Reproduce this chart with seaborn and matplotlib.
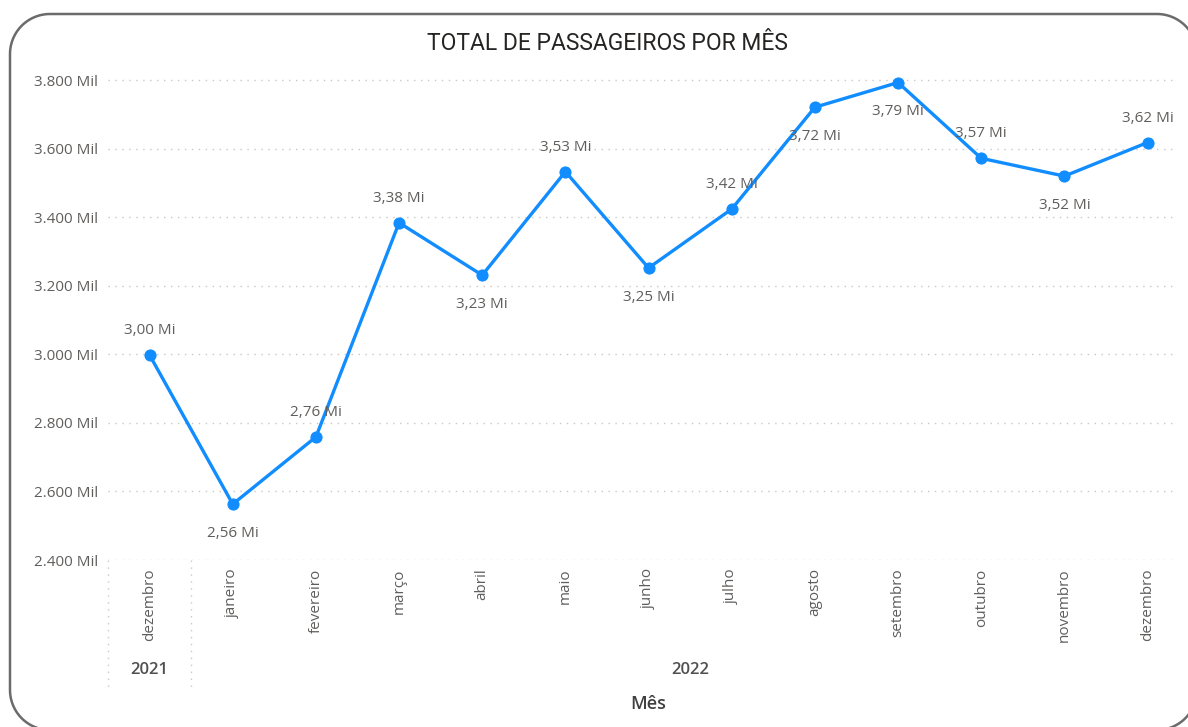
import numpy as np
import pandas as pd
import matplotlib
matplotlib.use("Agg")
import matplotlib.pyplot as plt
import matplotlib.transforms as mtransforms
from matplotlib.lines import Line2D
import seaborn as sns

# ---- data ----
meses = ["dezembro", "janeiro", "fevereiro", "março", "abril", "maio", "junho",
         "julho", "agosto", "setembro", "outubro", "novembro", "dezembro"]
anos = ["2021", "2022", "2022", "2022", "2022", "2022", "2022",
        "2022", "2022", "2022", "2022", "2022", "2022"]
passageiros_mil = [2998, 2563, 2759, 3384, 3231, 3533, 3252,
                   3424, 3721, 3793, 3572, 3520, 3618]
yticks_mil = [2400, 2600, 2800, 3000, 3200, 3400, 3600, 3800]
label_side = ["above", "below", "above", "above", "below", "above", "below",
              "above", "below", "below", "above", "below", "above"]

df = pd.DataFrame({"pos": np.arange(len(meses)), "mes": meses, "ano": anos,
                   "valor": passageiros_mil})

sns.set_theme(style="white")
plt.rcParams["font.family"] = ["Open Sans", "DejaVu Sans"]

W, H = 1188, 727
DPI = 100
fig = plt.figure(figsize=(W / DPI, H / DPI), dpi=DPI)

# rounded frame, built in pixel units (y measured from the bottom)
x0, x1, y0, y1, r = 10, 1197, -3, H - 14, 40
pts = []
for cx, cy, a0 in [(x1 - r, y1 - r, 0), (x0 + r, y1 - r, 90),
                   (x0 + r, y0 + r, 180), (x1 - r, y0 + r, 270)]:
    t = np.radians(np.linspace(a0, a0 + 90, 30))
    pts.append(np.column_stack([cx + r * np.cos(t), cy + r * np.sin(t)]))
pts = np.vstack(pts + [pts[0][:1]])
fig.add_artist(Line2D(pts[:, 0] / DPI, pts[:, 1] / DPI, transform=fig.dpi_scale_trans,
                      color="#6b6b6b", linewidth=1.8, clip_on=False))

ax_left, ax_right, ax_bottom, ax_top = 108, 1175, 560, 63
ax = fig.add_axes([ax_left / W, 1 - ax_bottom / H, (ax_right - ax_left) / W,
                   (ax_bottom - ax_top) / H])

blue = "#118DFF"
sns.lineplot(data=df, x="pos", y="valor", ax=ax, color=blue, linewidth=2.4,
             marker="o", markersize=8, markeredgecolor=blue, clip_on=False)

ax.set_xlim(-0.5, 12.33)
ax.set_ylim(2400, 3850)
ax.set_yticks(yticks_mil)
ax.set_yticklabels([f"{v:,}".replace(",", ".") + " Mil" for v in yticks_mil],
                   fontsize=11, color="#605E5C")
ax.set_xticks(df["pos"])
ax.set_xticklabels(meses, rotation=90, fontsize=11, color="#605E5C", va="top")
ax.tick_params(axis="both", length=0, pad=6)
ax.tick_params(axis="y", pad=7)
ax.set_xlabel("")
ax.set_ylabel("")

for s in ax.spines.values():
    s.set_visible(False)
ax.yaxis.grid(True, color="#C8C8C8", linestyle=(0, (1, 4)), linewidth=1.0)
ax.xaxis.grid(False)

# data labels
for x, v, side in zip(df["pos"], df["valor"], label_side):
    txt = f"{v / 1000:.2f}".replace(".", ",") + " Mi"
    off = 17.5 if side == "above" else -21
    ax.annotate(txt, (x, v), xytext=(0, off), textcoords="offset points",
                ha="center", va="center", fontsize=11, color="#605E5C")

# hierarchy separators and year labels
trans = mtransforms.blended_transform_factory(ax.transData, ax.transAxes)
ybot = -(690 - ax_bottom) / (ax_bottom - ax_top)
for xs in [-0.5, 0.5]:
    ax.plot([xs, xs], [0, ybot], transform=trans, color="#C8C8C8",
            linestyle=(0, (1, 4)), linewidth=1.0, clip_on=False)

year_y = -(670 - ax_bottom) / (ax_bottom - ax_top)
groups = df.groupby("ano", sort=False)["pos"]
for ano, ps in groups:
    lo = ps.min() - 0.5
    hi = ps.max() + 0.5 if ano != "2022" else 12.5
    ax.text((lo + hi) / 2, year_y, ano, transform=trans, ha="center", va="center",
            fontsize=12, color="#505050", fontweight="semibold")

mes_y = -(704 - ax_bottom) / (ax_bottom - ax_top)
ax.text(-0.5 + 13 / 2, mes_y, "Mês", transform=trans, ha="center", va="center",
        fontsize=13, color="#404040", fontweight="semibold")

fig.text(607 / W, 1 - 43 / H, "TOTAL DE PASSAGEIROS POR MÊS", ha="center",
         va="center", fontsize=16.5, color="#252423", family=["Roboto", "DejaVu Sans"])

fig.savefig("out.png", dpi=DPI)
